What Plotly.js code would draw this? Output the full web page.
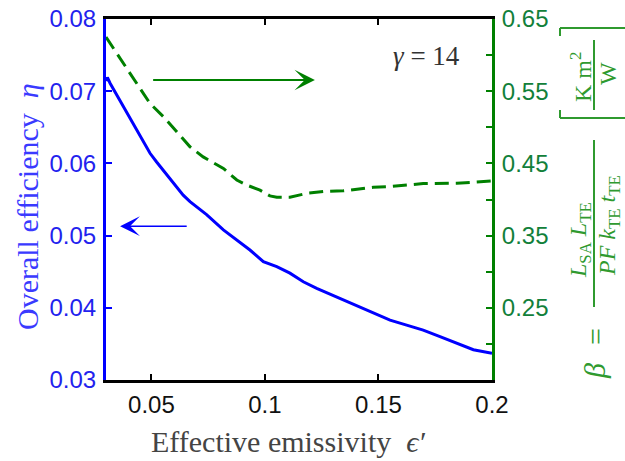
<!DOCTYPE html>
<html>
<head>
<meta charset="utf-8">
<script src="https://cdn.plot.ly/plotly-3.0.1.min.js"></script>
<style>
html,body{margin:0;padding:0;background:#fff;}
#chart{width:625px;height:461px;}
</style>
</head>
<body>
<div id="chart"></div>
<script>
// ---- data ----
const epsEta = [0.0300,0.0306,0.0318,0.0376,0.0435,0.0494,0.0523,0.0582,0.0640,0.0670,0.0743,0.0817,0.0876,0.0934,0.0993,0.1052,0.1110,0.1169,0.1228,0.1316,0.1404,0.1492,0.1551,0.1624,0.1697,0.1771,0.1845,0.1918,0.2000];
const eta    = [0.0714,0.0719,0.0711,0.0679,0.0646,0.0614,0.0602,0.0579,0.0556,0.0547,0.0529,0.0508,0.0494,0.0480,0.0464,0.0457,0.0448,0.0436,0.0427,0.0415,0.0402,0.0390,0.0383,0.0376,0.0369,0.0360,0.0351,0.0342,0.0337];

const epsBeta = [0.0300,0.0376,0.0435,0.0494,0.0552,0.0611,0.0670,0.0728,0.0817,0.0876,0.0920,0.0978,0.1022,0.1052,0.1110,0.1184,0.1257,0.1345,0.1404,0.1477,0.1551,0.1624,0.1697,0.1845,0.2000];
const beta    = [0.625,0.589,0.561,0.533,0.515,0.494,0.473,0.459,0.443,0.427,0.420,0.413,0.405,0.403,0.403,0.4085,0.411,0.412,0.414,0.417,0.418,0.420,0.422,0.4225,0.4256];

const xTickVals  = [0.05,0.1,0.15,0.2];
const xTickText  = ['0.05','0.1','0.15','0.2'];
const y1TickVals = [0.03,0.04,0.05,0.06,0.07,0.08];
const y1TickText = ['0.03','0.04','0.05','0.06','0.07','0.08'];
const y2TickVals = [0.25,0.35,0.45,0.55,0.65];
const y2TickText = ['0.25','0.35','0.45','0.55','0.65'];
const y2MinorVals = [0.2,0.3,0.4,0.5,0.6];

// arrow end points (data coordinates)
const blueArrow  = {tail:[0.0662,0.0513], tip:[0.0362,0.0513]};
const greenArrow = {tail:[0.0501,0.5655], tip:[0.1220,0.5655]};

// ---- colours ----
const BLUE = '#0000ff';
const GREEN = '#008000';
const SERIF = '"Liberation Serif","Times New Roman",serif';
const SANS = '"Liberation Sans",Arial,sans-serif';

// plot-area pixel helpers for placing labels (paper coordinates)
const L = 106, R = 492, T = 19, B = 380;
const px = v => (v - L) / (R - L);
const py = v => (B - v) / (B - T);

const traces = [
  {x: epsEta, y: eta, type: 'scatter', mode: 'lines', yaxis: 'y',
   line: {color: BLUE, width: 3}, hoverinfo: 'skip'},
  {x: epsBeta, y: beta, type: 'scatter', mode: 'lines', yaxis: 'y2',
   line: {color: GREEN, width: 3, dash: '14px,7px'}, hoverinfo: 'skip'}
];

function lbl(x, y, text, font, angle) {
  return {xref: 'paper', yref: 'paper', x: px(x), y: py(y), showarrow: false,
          xanchor: 'center', yanchor: 'middle', textangle: angle || 0,
          text: text, font: font};
}

const gTitle = {family: SERIF, size: 24, color: '#2f9a2f'};
const annotations = [
  // arrows
  {x: blueArrow.tip[0], y: blueArrow.tip[1], ax: blueArrow.tail[0], ay: blueArrow.tail[1],
   xref: 'x', yref: 'y', axref: 'x', ayref: 'y', text: '', showarrow: true,
   arrowhead: 3, arrowsize: 2.2, arrowwidth: 1.5, arrowcolor: BLUE},
  {x: greenArrow.tip[0], y: greenArrow.tip[1], ax: greenArrow.tail[0], ay: greenArrow.tail[1],
   xref: 'x', yref: 'y2', axref: 'x', ayref: 'y2', text: '', showarrow: true,
   arrowhead: 3, arrowsize: 1.7, arrowwidth: 2, arrowcolor: GREEN},
  lbl(426, 56, '<i>γ</i> = 14', {family: SERIF, size: 27, color: '#333'}),
  lbl(288, 441, 'Effective emissivity  <i>ϵ′</i>', {family: SERIF, size: 30, color: '#444'}),
  lbl(27, 207, 'Overall efficiency  <i>η</i>', {family: SERIF, size: 30, color: '#3a3aff'}, -90),
  lbl(594, 371, '<i>β</i>', {family: SERIF, size: 30, color: '#2f9a2f'}, -90),
  lbl(595, 337, '=', {family: SERIF, size: 30, color: '#2f9a2f'}, -90),
  lbl(580, 240, '<i>L</i><sub>SA</sub> <i>L</i><sub>TE</sub>', gTitle, -90),
  lbl(609, 226, '<i>PF</i> <i>k</i><sub>TE</sub> <i>t</i><sub>TE</sub>', gTitle, -90),
  lbl(581, 77, 'K m<sup>2</sup>', gTitle, -90),
  lbl(608, 74, 'W', gTitle, -90)
];

const lineStyle = {color: '#2f9a2f', width: 2};
const shapes = [
  // fraction bars
  {type: 'line', xref: 'paper', yref: 'paper', x0: px(594), x1: px(594), y0: py(140), y1: py(307), line: lineStyle},
  {type: 'line', xref: 'paper', yref: 'paper', x0: px(594), x1: px(594), y0: py(40), y1: py(110), line: lineStyle},
  // bracket (rotated)
  {type: 'line', xref: 'paper', yref: 'paper', x0: px(560), x1: px(626), y0: py(28), y1: py(28), line: lineStyle},
  {type: 'line', xref: 'paper', yref: 'paper', x0: px(560), x1: px(560), y0: py(28), y1: py(36), line: lineStyle},
  {type: 'line', xref: 'paper', yref: 'paper', x0: px(560), x1: px(626), y0: py(118), y1: py(118), line: lineStyle},
  {type: 'line', xref: 'paper', yref: 'paper', x0: px(560), x1: px(560), y0: py(110), y1: py(118), line: lineStyle}
];

const layout = {
  width: 625, height: 461,
  margin: {l: L, r: 625 - R, t: T, b: 461 - B, pad: 0},
  paper_bgcolor: '#fff', plot_bgcolor: '#fff',
  showlegend: false,
  xaxis: {
    range: [0.03, 0.2], tickvals: xTickVals, ticktext: xTickText,
    ticks: 'inside', ticklen: 6, tickwidth: 2, tickcolor: '#000',
    showline: true, linecolor: '#000', linewidth: 3, mirror: 'ticks',
    showgrid: false, zeroline: false, ticklabelstandoff: 1,
    tickfont: {family: SANS, size: 24, color: '#111'}
  },
  yaxis: {
    range: [0.03, 0.08], tickvals: y1TickVals, ticktext: y1TickText,
    ticks: 'inside', ticklen: 6, tickwidth: 2, tickcolor: BLUE,
    showline: true, linecolor: BLUE, linewidth: 3,
    showgrid: false, zeroline: false, ticklabelstandoff: 2,
    tickfont: {family: SANS, size: 24, color: '#2222ee'}
  },
  yaxis2: {
    range: [0.15, 0.65], tickmode: 'array', tickvals: y2TickVals, ticktext: y2TickText,
    overlaying: 'y', side: 'right',
    ticks: 'inside', ticklen: 6, tickwidth: 2, tickcolor: GREEN,
    minor: {tickmode: 'array', tickvals: y2MinorVals, ticks: 'inside', ticklen: 6, tickwidth: 2, tickcolor: GREEN, showgrid: false},
    showline: true, linecolor: GREEN, linewidth: 3,
    showgrid: false, zeroline: false, ticklabelstandoff: 2,
    tickfont: {family: SANS, size: 24, color: '#12803a'}
  },
  annotations: annotations,
  shapes: shapes
};

Plotly.newPlot('chart', traces, layout, {displayModeBar: false, staticPlot: true});
</script>
</body>
</html>
